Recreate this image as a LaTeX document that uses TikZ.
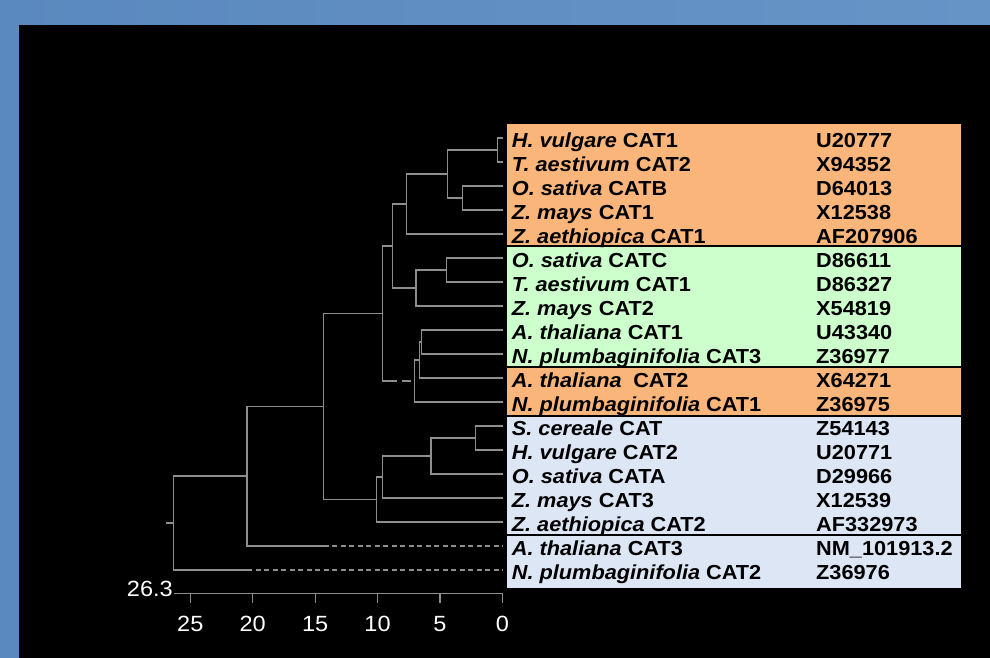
\documentclass[tikz,border=0pt]{standalone}
\usepackage{fontspec}
\setmainfont{Liberation Sans}[FakeStretch=1.07]
\definecolor{bgleft}{HTML}{5A89BF}
\definecolor{bgright}{HTML}{6794C7}
\definecolor{treegray}{HTML}{8E8E8E}
\definecolor{catorange}{HTML}{FAB57B}
\definecolor{catgreen}{HTML}{CCFFCC}
\definecolor{catblue}{HTML}{DCE6F4}
\begin{document}
\begin{tikzpicture}[x=1pt,y=-1pt,
  branch/.style={draw=treegray,line width=1.2pt},
  dashbranch/.style={branch,dash pattern=on 5pt off 3.5pt},
  groupbox/.style={draw=black,line width=2pt},
  rowtext/.style={anchor=base west,inner sep=0pt,font=\fontsize{20.3}{24}\selectfont\bfseries},
  ticklabel/.style={text=white,inner sep=0pt,font=\fontsize{22}{26}\selectfont}]
% frame
\useasboundingbox (0,0) rectangle (990,658);
\shade[left color=bgleft,right color=bgright] (0,0) rectangle (990,658);
\fill[black] (19,25) rectangle (990,658);

% group boxes
\draw[groupbox,fill=catorange] (506,123) rectangle (961.5,246);
\draw[groupbox,fill=catgreen] (506,246) rectangle (961.5,366.5);
\draw[groupbox,fill=catorange] (506,366.5) rectangle (961.5,415.5);
\draw[groupbox,fill=catblue] (506,415.5) rectangle (961.5,534.5);
\draw[groupbox,fill=catblue] (506,534.5) rectangle (961.5,589);

% leaf ends and labels
\foreach \i/\sp/\gn/\acc in {
  0/H. vulgare/CAT1/U20777,
  1/T. aestivum/CAT2/X94352,
  2/O. sativa/CATB/D64013,
  3/Z. mays/CAT1/X12538,
  4/Z. aethiopica/CAT1/AF207906,
  5/O. sativa/CATC/D86611,
  6/T. aestivum/CAT1/D86327,
  7/Z. mays/CAT2/X54819,
  8/A. thaliana/CAT1/U43340,
  9/N. plumbaginifolia/CAT3/Z36977,
  10/A. thaliana/{\hspace{5.5pt}CAT2}/X64271,
  11/N. plumbaginifolia/CAT1/Z36975,
  12/S. cereale/CAT/Z54143,
  13/H. vulgare/CAT2/U20771,
  14/O. sativa/CATA/D29966,
  15/Z. mays/CAT3/X12539,
  16/Z. aethiopica/CAT2/AF332973,
  17/A. thaliana/CAT3/NM\_101913.2,
  18/N. plumbaginifolia/CAT2/Z36976}{
  \coordinate (lf\i) at (502.5,138+24*\i);
  \node[rowtext] (sp\i) at (511.7,147.5+24*\i) {\textit{\sp} \gn};
  \node[rowtext] (acc\i) at (816,147.5+24*\i) {\acc};
}

% internal nodes of the tree
\coordinate (a1) at (497.7,150);
\coordinate (a2) at (462.3,198);
\coordinate (a3) at (447.7,174);
\coordinate (a4) at (406.7,204);
\coordinate (b1) at (446.3,270);
\coordinate (b2) at (416,288);
\coordinate (c0) at (392.3,246);
\coordinate (d1) at (421.7,342);
\coordinate (d2) at (419.3,360);
\coordinate (d3) at (414.3,381);
\coordinate (c1) at (382.3,313.5);
\coordinate (e1) at (475.7,438);
\coordinate (e2) at (431,456);
\coordinate (e3) at (382.3,477);
\coordinate (e4) at (376.7,499.5);
\coordinate (f1) at (323.7,406.5);
\coordinate (g1) at (247,476);
\coordinate (root) at (173.7,523);
\coordinate (stub) at (166,523);
% break points of the partly dashed branches
\coordinate (d3s) at (397,381);
\coordinate (d3da) at (401.5,381);
\coordinate (d3db) at (411,381);
\coordinate (at3s) at (323.7,546);
\coordinate (np2s) at (247,570);

% branches
\draw[branch] (a1) |- (lf0);  \draw[branch] (a1) |- (lf1);
\draw[branch] (a2) |- (lf2);  \draw[branch] (a2) |- (lf3);
\draw[branch] (a3) |- (a1);   \draw[branch] (a3) |- (a2);
\draw[branch] (a4) |- (a3);   \draw[branch] (a4) |- (lf4);
\draw[branch] (b1) |- (lf5);  \draw[branch] (b1) |- (lf6);
\draw[branch] (b2) |- (b1);   \draw[branch] (b2) |- (lf7);
\draw[branch] (c0) |- (a4);   \draw[branch] (c0) |- (b2);
\draw[branch] (d1) |- (lf8);  \draw[branch] (d1) |- (lf9);
\draw[branch] (d2) |- (d1);   \draw[branch] (d2) |- (lf10);
\draw[branch] (d3) |- (d2);   \draw[branch] (d3) |- (lf11);
\draw[branch] (c1) |- (c0);   \draw[branch] (c1) |- (d3s);
\draw[branch] (d3da) -- (d3db);
\draw[branch] (e1) |- (lf12); \draw[branch] (e1) |- (lf13);
\draw[branch] (e2) |- (e1);   \draw[branch] (e2) |- (lf14);
\draw[branch] (e3) |- (e2);   \draw[branch] (e3) |- (lf15);
\draw[branch] (e4) |- (e3);   \draw[branch] (e4) |- (lf16);
\draw[branch] (f1) |- (c1);   \draw[branch] (f1) |- (e4);
\draw[branch] (g1) |- (f1);   \draw[branch] (g1) |- (at3s);
\draw[dashbranch] (at3s) -- (lf17);
\draw[branch] (root) |- (g1); \draw[branch] (root) |- (np2s);
\draw[dashbranch] (np2s) -- (lf18);
\draw[branch] (stub) -- (root);

% distance scale
\coordinate (axl) at (174,593.3);
\coordinate (axr) at (502.3,593.3);
\draw[branch] (axl) -- (axr);
\node[ticklabel,anchor=base east] (axmax) at (173,596.5) {26.3};
\foreach \v in {0,5,...,25}{
  \coordinate (tk\v) at (502.3-12.48*\v,593.3);
  \draw[branch] (tk\v) -- ++(0,10);
  \node[ticklabel,anchor=base] (tl\v) at (502.3-12.48*\v,631) {\v};
}
\end{tikzpicture}
\end{document}
